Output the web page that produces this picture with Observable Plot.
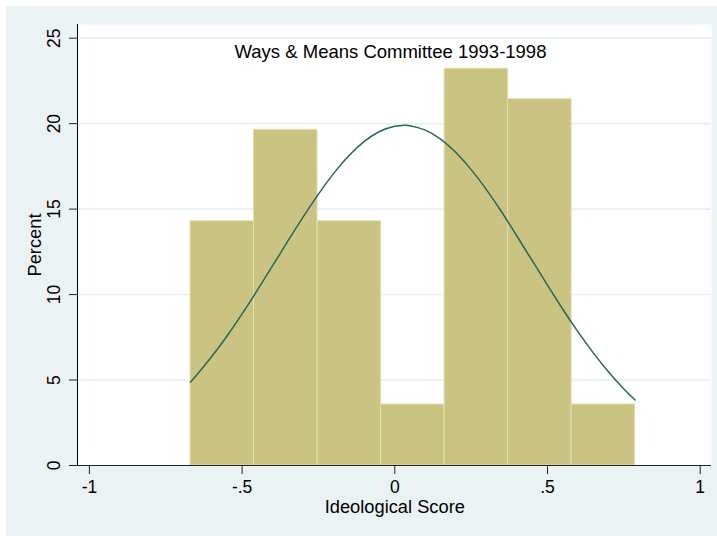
<!DOCTYPE html>
<html><head><meta charset="utf-8">
<script src="https://cdn.jsdelivr.net/npm/d3@7"></script>
<script src="https://cdn.jsdelivr.net/npm/@observablehq/plot@0.6"></script>
<style>
html,body{margin:0;padding:0;background:#fff;overflow:hidden;}
#chart{position:absolute;left:6px;top:6px;}
</style></head><body><div id="chart"></div>
<script>
// Histogram bin edges (Ideological Score) and bar heights (Percent)
const binEdges = [-0.669, -0.461, -0.253, -0.045, 0.163, 0.371, 0.579, 0.787];
const percents = [14.29, 19.64, 14.29, 3.57, 23.21, 21.43, 3.57];

// Normal-density overlay
const curveX = [-0.669, -0.65, -0.60, -0.55, -0.50, -0.45, -0.40, -0.35, -0.30, -0.25, -0.20, -0.15, -0.10, -0.05, 0.00, 0.03, 0.05, 0.10, 0.15, 0.20, 0.25, 0.30, 0.35, 0.40, 0.45, 0.50, 0.55, 0.60, 0.65, 0.70, 0.75, 0.787];
const curveY = [4.88, 5.27, 6.36, 7.56, 8.87, 10.26, 11.69, 13.14, 14.55, 15.88, 17.09, 18.13, 18.96, 19.54, 19.85, 19.90, 19.88, 19.62, 19.09, 18.31, 17.31, 16.14, 14.83, 13.42, 11.98, 10.55, 9.14, 7.82, 6.59, 5.47, 4.48, 3.83];

// Axis ticks
const xTickValues = [-1, -0.5, 0, 0.5, 1];
const xTickLabels = ["-1", "-.5", "0", ".5", "1"];
const yTickValues = [0, 5, 10, 15, 20, 25];
const yTickLabels = ["0", "5", "10", "15", "20", "25"];

const titleText = "Ways & Means Committee 1993-1998";
const xTitle = "Ideological Score";
const yTitle = "Percent";

const bins = percents.map((p, i) => ({x1: binEdges[i], x2: binEdges[i + 1], pct: p}));
const curve = curveX.map((x, i) => ({x, y: curveY[i]}));

const xDomain = [-1.039, 1.037];
const font = "'Liberation Sans', Arial, Helvetica, sans-serif";

const chart = Plot.plot({
  width: 711,
  height: 530,
  marginLeft: 71,
  marginRight: 6,
  marginTop: 18,
  marginBottom: 71,
  style: {background: "#eaf2f3", fontFamily: font, color: "#000", overflow: "visible"},
  x: {domain: xDomain},
  y: {domain: [0, 25.8]},
  marks: [
    Plot.frame({fill: "white", stroke: null}),
    Plot.ruleY(yTickValues.filter(d => d > 0), {stroke: "#e6eff1", strokeWidth: 1.6}),
    Plot.rectY(bins, {x1: "x1", x2: "x2", y: "pct", fill: "#cbc382", stroke: "#e3ddb3", strokeWidth: 1}),
    Plot.line(curve, {x: "x", y: "y", stroke: "#22695d", strokeWidth: 1.5, curve: "natural"}),
    Plot.ruleY([0], {stroke: "#222", strokeWidth: 1}),
    Plot.ruleX([xDomain[0]], {stroke: "#000", strokeWidth: 1}),
    Plot.axisX(xTickValues, {
      tickSize: 9, tickPadding: 6, fontSize: 17.5, label: null,
      tickFormat: (d, i) => xTickLabels[xTickValues.indexOf(d)], stroke: "#222"
    }),
    Plot.axisY(yTickValues, {tickSize: 8, tickFormat: () => "", label: null, stroke: "#222"}),
    Plot.text(yTickValues, {
      y: d => d, text: (d, i) => yTickLabels[i], frameAnchor: "left", dx: -23,
      rotate: -90, textAnchor: "middle", lineAnchor: "middle", fontSize: 17.5, fill: "#000"
    }),
    Plot.text([xTitle], {
      x: () => 0, text: d => d, frameAnchor: "bottom", dy: 42,
      lineAnchor: "middle", textAnchor: "middle", fontSize: 18.3, fill: "#000"
    }),
    Plot.text([yTitle], {
      text: d => d, frameAnchor: "left", dx: -42, rotate: -90,
      textAnchor: "middle", lineAnchor: "middle", fontSize: 18.3, fill: "#000"
    }),
    Plot.text([titleText], {
      text: d => d, frameAnchor: "top", dx: -4, dy: 20,
      lineAnchor: "top", textAnchor: "middle", fontSize: 18.5, fill: "#000"
    })
  ]
});
document.getElementById("chart").appendChild(chart);
</script></body></html>
